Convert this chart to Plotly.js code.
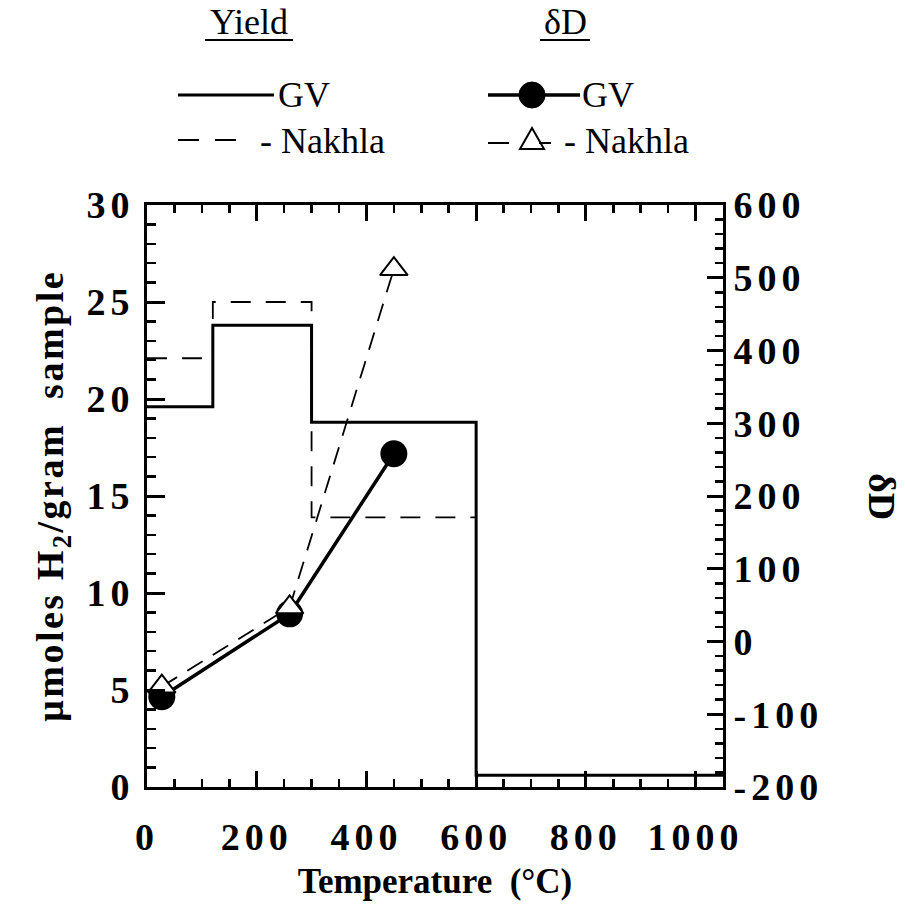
<!DOCTYPE html>
<html>
<head>
<meta charset="utf-8">
<script src="https://cdn.plot.ly/plotly-3.0.1.min.js"></script>
<style>html,body{margin:0;padding:0;background:#fff}</style>
</head>
<body>
<div id="chart" style="width:905px;height:906px"></div>
<script>
// H2 yield released in each heating step (µmol H2 per gram of sample)
const gvYieldTemp = [0, 120, 300, 600, 1050];
const gvYield = [19.6, 23.8, 18.8, 0.6, 0.6];
const nakhlaYieldTemp = [0, 120, 300, 600];
const nakhlaYield = [22.1, 25.0, 13.9, 13.9];

// δD of the released hydrogen (‰)
const gvDTemp = [27, 260, 450];
const gvD = [-76, 38, 258];
const nakhlaDTemp = [27, 260, 450];
const nakhlaD = [-62, 47, 512];

// Axis tick labels
const xTicks = [0, 200, 400, 600, 800, 1000];
const yTicks = [0, 5, 10, 15, 20, 25, 30];
const y2Ticks = [-200, -100, 0, 100, 200, 300, 400, 500, 600];

const SERIF = 'Liberation Serif, Times New Roman, serif';
const spaced = (v, ls) => `<span style="letter-spacing:${ls}px">${v}</span>`;
const tickFont = {family: SERIF, size: 38, color: '#000', weight: 'bold'};

// plot-area box in page pixels, used to place the legend block above it
const BOX = {l: 147, t: 205, w: 576, h: 582};
const px = x => (x - BOX.l) / BOX.w;
const py = y => 1 - (y - BOX.t) / BOX.h;

const traces = [
  {
    x: gvYieldTemp, y: gvYield, name: 'GV yield', yaxis: 'y',
    mode: 'lines', line: {shape: 'hv', color: '#000', width: 3}
  },
  {
    x: nakhlaYieldTemp, y: nakhlaYield, name: 'Nakhla yield', yaxis: 'y',
    mode: 'lines', line: {shape: 'hv', color: '#000', width: 1.8, dash: '20px,15px'}
  },
  {
    x: gvDTemp, y: gvD, name: 'GV δD', yaxis: 'y2',
    mode: 'lines+markers', line: {color: '#000', width: 3.5},
    marker: {symbol: 'circle', size: 27, color: '#000'}
  },
  {
    x: nakhlaDTemp, y: nakhlaD, name: 'Nakhla δD', yaxis: 'y2',
    mode: 'lines+markers', line: {color: '#000', width: 1.8, dash: '18px,12px'},
    marker: {symbol: 'triangle-up', size: 24, color: '#fff', line: {color: '#000', width: 2}}
  }
];

// legend keys drawn above the plot
const shapes = [
  // header underlines
  {type: 'line', xref: 'paper', yref: 'paper', x0: px(205), x1: px(293), y0: py(40), y1: py(40), line: {color: '#000', width: 2}},
  {type: 'line', xref: 'paper', yref: 'paper', x0: px(540), x1: px(590), y0: py(40), y1: py(40), line: {color: '#000', width: 2}},
  // Yield GV
  {type: 'line', xref: 'paper', yref: 'paper', x0: px(178), x1: px(274), y0: py(95), y1: py(95), line: {color: '#000', width: 3}},
  // Yield Nakhla
  {type: 'line', xref: 'paper', yref: 'paper', x0: px(178), x1: px(240), y0: py(140), y1: py(140), line: {color: '#000', width: 1.8, dash: '21px,16px'}},
  // δD GV
  {type: 'line', xref: 'paper', yref: 'paper', x0: px(488), x1: px(580), y0: py(95), y1: py(95), line: {color: '#000', width: 3.5}},
  {type: 'circle', xref: 'paper', yref: 'paper', xsizemode: 'pixel', ysizemode: 'pixel',
   xanchor: px(532), yanchor: py(95), x0: -13, x1: 13, y0: -13, y1: 13,
   fillcolor: '#000', line: {color: '#000', width: 1}},
  // δD Nakhla
  {type: 'path', xref: 'paper', yref: 'paper', xsizemode: 'pixel', ysizemode: 'pixel',
   xanchor: px(532), yanchor: py(140), path: 'M-12,-9 L12,-9 L0,12 Z',
   fillcolor: 'rgba(0,0,0,0)', line: {color: '#000', width: 2}},
  {type: 'line', xref: 'paper', yref: 'paper', x0: px(488), x1: px(551), y0: py(143), y1: py(143), line: {color: '#000', width: 1.8, dash: '21px,30px,12px'}}
];

const legendText = (x, y, text, anchor) => ({
  xref: 'paper', yref: 'paper', x: px(x), y: py(y), text: text,
  xanchor: anchor || 'left', yanchor: 'middle', showarrow: false,
  font: {family: SERIF, size: 36, color: '#000'}
});

const annotations = [
  legendText(249, 22, 'Yield', 'center'),
  legendText(565, 22, 'δD', 'center'),
  legendText(276, 95, 'GV'),
  legendText(258, 141, '- Nakhla'),
  legendText(580, 95, 'GV'),
  legendText(562, 141, '- Nakhla'),
  {
    xref: 'paper', yref: 'paper', x: px(882), y: py(496), text: 'δD',
    textangle: 90, showarrow: false, xanchor: 'center', yanchor: 'middle',
    font: {family: SERIF, size: 38, color: '#000', weight: 'bold'}
  }
];

const layout = {
  width: 905, height: 906,
  margin: {l: BOX.l, r: 905 - BOX.l - BOX.w, t: BOX.t, b: 906 - BOX.t - BOX.h},
  paper_bgcolor: '#fff', plot_bgcolor: '#fff',
  showlegend: false,
  font: {family: SERIF, color: '#000'},
  xaxis: {
    range: [0, 1050], showgrid: false, zeroline: false,
    showline: true, linecolor: '#000', linewidth: 3, mirror: 'ticks',
    ticks: 'inside', ticklen: 16, tickwidth: 3, tickcolor: '#000',
    tickmode: 'array', tickvals: xTicks, ticktext: xTicks.map(v => spaced(v, 5)),
    minor: {dtick: 50, tick0: 0, ticks: 'inside', ticklen: 8, tickwidth: 2.5, tickcolor: '#000'},
    tickfont: tickFont, ticklabelstandoff: 14,
    title: {text: 'Temperature\u00a0 (°C)', font: {family: SERIF, size: 35, color: '#000', weight: 'bold'}, standoff: 12}
  },
  yaxis: {
    range: [0, 30], showgrid: false, zeroline: false,
    showline: true, linecolor: '#000', linewidth: 3,
    ticks: 'inside', ticklen: 18, tickwidth: 3, tickcolor: '#000',
    tickmode: 'array', tickvals: yTicks, ticktext: yTicks.map(v => spaced(v, 5)),
    minor: {dtick: 1, tick0: 0, ticks: 'inside', ticklen: 9, tickwidth: 2.5, tickcolor: '#000'},
    tickfont: tickFont, ticklabelstandoff: 2,
    title: {text: spaced('µmoles H<sub>2</sub>/gram\u00a0 sample', 2.5), font: {family: SERIF, size: 38, color: '#000', weight: 'bold'}, standoff: 12}
  },
  yaxis2: {
    overlaying: 'y', side: 'right',
    range: [-200, 600], showgrid: false, zeroline: false,
    showline: true, linecolor: '#000', linewidth: 3,
    ticks: 'inside', ticklen: 16, tickwidth: 3, tickcolor: '#000',
    tickmode: 'array', tickvals: y2Ticks, ticktext: y2Ticks.map(v => spaced(v, 5)),
    minor: {dtick: 20, tick0: 0, ticks: 'inside', ticklen: 8, tickwidth: 2.5, tickcolor: '#000'},
    tickfont: tickFont, ticklabelstandoff: 0
  },
  shapes: shapes,
  annotations: annotations
};

Plotly.newPlot('chart', traces, layout, {staticPlot: true, displayModeBar: false});
</script>
</body>
</html>
